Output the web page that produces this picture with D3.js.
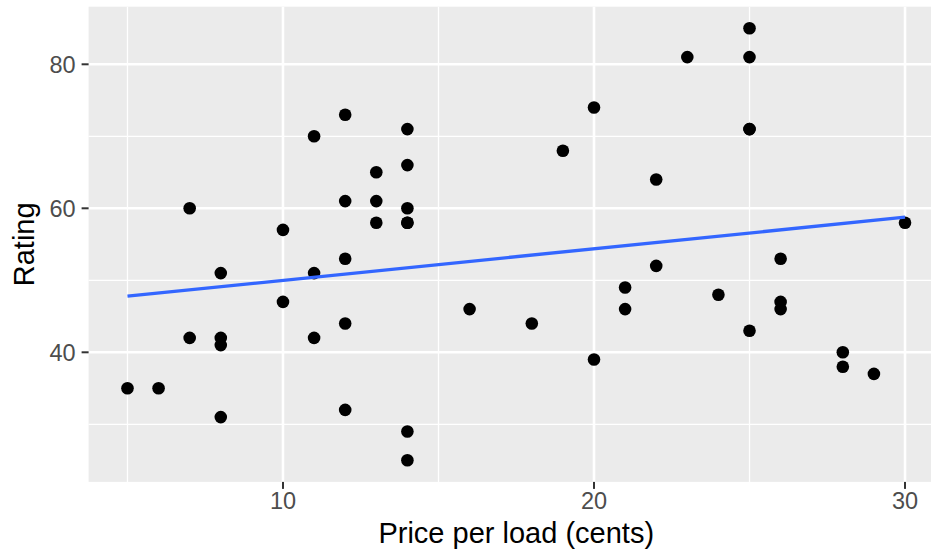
<!DOCTYPE html>
<html>
<head>
    <meta charset="utf-8">
    <title>Rating vs Price per load</title>
    <script src="https://cdnjs.cloudflare.com/ajax/libs/d3/7.8.5/d3.min.js"></script>
    <style>
        body {
            margin: 0;
            background-color: white;
            font-family: "Liberation Sans", Arial, sans-serif;
        }

        #chart svg {
            display: block;
        }

        .tick-label {
            fill: #4d4d4d;
            font-size: 23.5px;
        }

        .axis-title {
            fill: black;
            font-size: 29px;
        }
    </style>
</head>

<body>
    <div id="chart"></div>

    <script>
        // price per load (cents) and rating, one entry per detergent
        const price = [5, 6, 7, 7, 8, 8, 8, 8, 10, 10, 11, 11, 11,
            12, 12, 12, 12, 12, 13, 13, 13, 14, 14, 14, 14, 14, 14, 14,
            16, 18, 19, 20, 20, 21, 21, 22, 22, 23, 24,
            25, 25, 25, 25, 25, 26, 26, 26, 28, 28, 29, 30];
        const rating = [35, 35, 60, 42, 51, 42, 41, 31, 57, 47, 70, 51, 42,
            73, 61, 53, 44, 32, 65, 61, 58, 71, 66, 60, 58, 58, 29, 25,
            46, 44, 68, 74, 39, 49, 46, 64, 52, 81, 48,
            85, 81, 71, 71, 43, 53, 47, 46, 40, 38, 37, 58];

        const xTicks = [10, 20, 30];
        const xMinor = [5, 15, 25];
        const yTicks = [40, 60, 80];
        const yMinor = [30, 50, 70];

        const width = 931, height = 552;
        const panel = { left: 88.6, right: 943.9, top: 6.7, bottom: 481.9 };

        const svg = d3.select("#chart").append("svg")
            .attr("width", width)
            .attr("height", height);

        // ggplot style 5% expansion
        const xExt = d3.extent(price), yExt = d3.extent(rating);
        const xPad = (xExt[1] - xExt[0]) * 0.05, yPad = (yExt[1] - yExt[0]) * 0.05;

        const x = d3.scaleLinear()
            .domain([xExt[0] - xPad, xExt[1] + xPad])
            .range([panel.left, panel.right]);
        const y = d3.scaleLinear()
            .domain([yExt[0] - yPad, yExt[1] + yPad])
            .range([panel.bottom, panel.top]);

        svg.append("rect")
            .attr("x", panel.left)
            .attr("y", panel.top)
            .attr("width", panel.right - panel.left)
            .attr("height", panel.bottom - panel.top)
            .attr("fill", "#ebebeb");

        // grid lines
        const grid = svg.append("g").attr("stroke", "white");
        grid.selectAll(".vminor").data(xMinor).enter().append("line")
            .attr("x1", d => x(d)).attr("x2", d => x(d))
            .attr("y1", panel.top).attr("y2", panel.bottom)
            .attr("stroke-width", 1.3);
        grid.selectAll(".hminor").data(yMinor).enter().append("line")
            .attr("x1", panel.left).attr("x2", panel.right)
            .attr("y1", d => y(d)).attr("y2", d => y(d))
            .attr("stroke-width", 1.3);
        grid.selectAll(".vmajor").data(xTicks).enter().append("line")
            .attr("x1", d => x(d)).attr("x2", d => x(d))
            .attr("y1", panel.top).attr("y2", panel.bottom)
            .attr("stroke-width", 2.6);
        grid.selectAll(".hmajor").data(yTicks).enter().append("line")
            .attr("x1", panel.left).attr("x2", panel.right)
            .attr("y1", d => y(d)).attr("y2", d => y(d))
            .attr("stroke-width", 2.6);

        // points
        svg.append("g").selectAll("circle")
            .data(price.map((p, i) => [p, rating[i]]))
            .enter().append("circle")
            .attr("cx", d => x(d[0]))
            .attr("cy", d => y(d[1]))
            .attr("r", 6.3)
            .attr("fill", "black");

        // least squares fit, like geom_smooth(method = "lm", se = FALSE)
        const mx = d3.mean(price), my = d3.mean(rating);
        let sxy = 0, sxx = 0;
        price.forEach((p, i) => {
            sxy += (p - mx) * (rating[i] - my);
            sxx += (p - mx) * (p - mx);
        });
        const slope = sxy / sxx, intercept = my - slope * mx;

        svg.append("path")
            .datum(xExt)
            .attr("fill", "none")
            .attr("stroke", "#3366ff")
            .attr("stroke-width", 3.3)
            .attr("d", d3.line().x(d => x(d)).y(d => y(intercept + slope * d)));

        // axes, drawn by hand to get the ggplot look
        const xAxis = svg.append("g");
        xAxis.selectAll("line").data(xTicks).enter().append("line")
            .attr("x1", d => x(d)).attr("x2", d => x(d))
            .attr("y1", panel.bottom).attr("y2", panel.bottom + 7)
            .attr("stroke", "#333333").attr("stroke-width", 2);
        xAxis.selectAll("text").data(xTicks).enter().append("text")
            .attr("class", "tick-label")
            .attr("x", d => x(d))
            .attr("y", panel.bottom + 27)
            .attr("text-anchor", "middle")
            .text(d => d);

        const yAxis = svg.append("g");
        yAxis.selectAll("line").data(yTicks).enter().append("line")
            .attr("x1", panel.left - 7).attr("x2", panel.left)
            .attr("y1", d => y(d)).attr("y2", d => y(d))
            .attr("stroke", "#333333").attr("stroke-width", 2);
        yAxis.selectAll("text").data(yTicks).enter().append("text")
            .attr("class", "tick-label")
            .attr("x", panel.left - 13)
            .attr("y", d => y(d))
            .attr("dy", "0.36em")
            .attr("text-anchor", "end")
            .text(d => d);

        svg.append("text")
            .attr("class", "axis-title")
            .attr("x", (panel.left + 905 + 31.1 * 1.25) / 2)
            .attr("y", 543)
            .attr("text-anchor", "middle")
            .text("Price per load (cents)");

        svg.append("text")
            .attr("class", "axis-title")
            .attr("transform", `translate(33.5,${(panel.top + panel.bottom) / 2}) rotate(-90)`)
            .attr("text-anchor", "middle")
            .text("Rating");
    </script>
</body>
</html>
